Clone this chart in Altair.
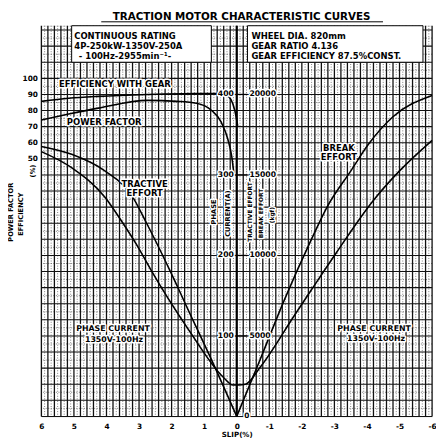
import altair as alt
import pandas as pd
import numpy as np

# ---------------- values ----------------
slip_ticks = [6, 5, 4, 3, 2, 1, 0, -1, -2, -3, -4, -5, -6]
pct_ticks = [50, 60, 70, 80, 90, 100]

# efficiency with gear (%)
eff_slip = [6.0, 5.16, 4.25, 2.74, 1.24, 0.57, 0.33, 0.18, 0.06, -0.03]
eff_val = [85.7, 87.6, 88.8, 90.0, 90.6, 90.6, 89.7, 87.0, 80.2, 70.5]

# power factor (%)
pf_slip = [6.0, 5.16, 4.25, 2.74, 1.84, 1.24, 0.78, 0.48, 0.27, 0.15, 0.09]
pf_val = [74.1, 77.8, 81.5, 86.3, 85.7, 84.5, 80.2, 72.9, 62.0, 51.0, 41.2]

# phase current (A), 1350V-100Hz
cur_slip = [6.0, 5.07, 4.04, 3.56, 3.04, 2.65, 1.45, 0.42, 0.12, -0.06, -0.27,
            -0.72, -1.78, -2.29, -3.07, -4.19, -5.0, -6.0]
cur_val = [329, 309, 272, 244, 211, 183, 106, 49, 39, 39, 40,
           61, 126, 157, 204, 268, 305, 343]

# tractive effort (kgf), motoring side
te_slip = [6.0, 5.07, 4.04, 3.26, 2.74, 1.93, 1.54, 0.78, 0.0]
te_val = [16770, 16280, 15240, 13840, 11890, 8540, 6830, 3540, 0]

# brake effort (kgf), braking side
br_slip = [0.0, -0.72, -1.48, -2.29, -2.77, -3.5, -4.04, -4.79, -6.0]
br_val = [0, 3540, 7320, 10980, 12990, 15240, 16890, 18600, 19940]

# right-hand scale labels drawn in the middle of the chart
mid_amp = [400, 300, 200, 100]
mid_kgf = ["20000", "15000", "10000", "5000"]

title_text = "TRACTION MOTOR CHARACTERISTIC CURVES"
box_left = ["CONTINUOUS RATING", "4P-250kW-1350V-250A", "- 100Hz-2955min\u207b\u00b9-"]
box_right = ["WHEEL DIA. 820mm", "GEAR RATIO 4.136", "GEAR EFFICIENCY 87.5%CONST."]

# ---------------- layout / styles ----------------
F = "DejaVu Sans"
W, H = 398, 398
PX_PER_AMP = 0.82
A_TOP = H / PX_PER_AMP           # top of the current scale
P_TOP = (A_TOP - 220) / 2        # percent scale shares the grid: 10 % = 20 A
P_BOT = (0 - 220) / 2

xs = alt.Scale(domain=[-6, 6], reverse=True, nice=False, zero=False)
ysA = alt.Scale(domain=[0, A_TOP], nice=False, zero=False)
ysP = alt.Scale(domain=[P_BOT, P_TOP], nice=False, zero=False)
ysT = alt.Scale(domain=[0, A_TOP * 50], nice=False, zero=False)

xaxis = alt.Axis(values=slip_ticks, labelExpr="toString(datum.value)",
                 title="SLIP(%)", labelFont=F, labelFontWeight="bold", labelFontSize=7.5,
                 labelColor="black", titleFont=F, titleFontWeight="bold", titleFontSize=7.2,
                 titleColor="black", ticks=False, domain=False, grid=False,
                 labelPadding=6, titlePadding=1, labelOverlap=False, labelFlush=False)

def X(field="s"):
    return alt.X(f"{field}:Q", scale=xs, axis=xaxis)

def YA(field="a"):
    return alt.Y(f"{field}:Q", scale=ysA, axis=None)

# ---------------- grid ----------------
vals = np.arange(-60, 61)
vgrid = pd.DataFrame({"s": vals / 10.0, "major": (vals % 2 == 0)})
hvals = np.arange(0, 49)
hgrid = pd.DataFrame({"a": hvals * 10.0, "major": (hvals % 2 == 0)})

g_v_major = alt.Chart(vgrid[vgrid.major]).mark_rule(color="#111", strokeWidth=1.3).encode(x=X())
g_v_minor = alt.Chart(vgrid[~vgrid.major]).mark_rule(color="#444", strokeWidth=0.7,
                                                    strokeDash=[1, 1.6]).encode(x=X())
g_h_major = alt.Chart(hgrid[hgrid.major]).mark_rule(color="#111", strokeWidth=1.1).encode(y=YA())
g_h_minor = alt.Chart(hgrid[~hgrid.major]).mark_rule(color="#444", strokeWidth=0.7,
                                                    strokeDash=[1, 1.6]).encode(y=YA())
g_center = alt.Chart(pd.DataFrame({"s": [0.0]})).mark_rule(color="black", strokeWidth=2.2).encode(x=X())

grid = alt.layer(g_v_minor, g_h_minor, g_v_major, g_h_major, g_center)

# ---------------- info boxes ----------------
boxes = pd.DataFrame({"s1": [5.07, -0.33], "s2": [0.78, -5.72], "a1": [440.0, 440.0], "a2": [A_TOP, A_TOP]})
box_rect = alt.Chart(boxes).mark_rect(fill="white", stroke="black", strokeWidth=1).encode(
    x=X("s1"), x2="s2:Q", y=YA("a1"), y2="a2:Q")

box_rows = [472.6, 460.4, 448.2]
box_txt = pd.DataFrame({
    "t": box_left + box_right,
    "s": [4.99, 4.99, 4.85, -0.45, -0.45, -0.45],
    "a": box_rows + box_rows,
})
box_text = alt.Chart(box_txt).mark_text(font=F, fontWeight="bold", fontSize=8.6, align="left",
                                        baseline="middle", color="black").encode(
    x=X(), y=YA(), text="t:N")

# ---------------- curves ----------------
def curve(slips, values, yscale, axis=None):
    df = pd.DataFrame({"s": slips, "v": values, "o": range(len(slips))})
    return alt.Chart(df).mark_line(color="black", strokeWidth=1.6, interpolate="monotone").encode(
        x=X(), y=alt.Y("v:Q", scale=yscale, axis=axis), order="o:Q")

pct_axis = alt.Axis(values=pct_ticks, labelFont=F, labelFontWeight="bold", labelFontSize=7.5,
                    labelColor="black", ticks=False, domain=False, grid=False, title=None,
                    labelPadding=4)
pct_group = alt.layer(curve(eff_slip, eff_val, ysP, pct_axis), curve(pf_slip, pf_val, ysP, pct_axis))
te_group = alt.layer(curve(te_slip, te_val, ysT), curve(br_slip, br_val, ysT))
cur_group = curve(cur_slip, cur_val, ysA)

# ---------------- text annotations ----------------
def labels(df, size, align="center", angle=0, baseline="middle"):
    enc = dict(x=X(), y=YA(), text="t:N")
    halo = alt.Chart(df).mark_text(font=F, fontWeight="bold", fontSize=size, align=align, angle=angle,
                                   baseline=baseline, fill="white", stroke="white", strokeWidth=3,
                                   strokeJoin="round").encode(**enc)
    ink = alt.Chart(df).mark_text(font=F, fontWeight="bold", fontSize=size, align=align, angle=angle,
                                  baseline=baseline, color="black").encode(**enc)
    return alt.layer(halo, ink)

curve_labels_left = pd.DataFrame({"t": ["EFFICIENCY WITH GEAR", "POWER FACTOR"],
                                  "s": [5.46, 5.22], "a": [413.0, 366.0]})
curve_labels_mid = pd.DataFrame({
    "t": ["TRACTIVE", "EFFORT", "BREAK", "EFFORT"],
    "s": [2.83, 2.83, -3.14, -3.14],
    "a": [289.0, 277.0, 333.0, 322.0]})
phase_labels = pd.DataFrame({
    "t": ["PHASE CURRENT", "1350V-100Hz", "PHASE CURRENT", "1350V-100Hz"],
    "s": [3.8, 3.77, -4.22, -4.28],
    "a": [109.0, 95.5, 108.0, 96.0]})
mid_left = pd.DataFrame({"t": [str(v) for v in mid_amp], "s": [0.09] * 4, "a": [float(v) for v in mid_amp]})
mid_right = pd.DataFrame({"t": mid_kgf, "s": [-0.39] * 4, "a": [float(v) for v in mid_amp]})
mid_zero = pd.DataFrame({"t": ["0"], "s": [-0.31], "a": [1.0]})
mid_dash = pd.DataFrame({"s1": [0.06] * 4, "s2": [-0.33] * 4, "a": [float(v) for v in mid_amp]})
dash_rules = alt.Chart(mid_dash).mark_rule(color="black", strokeWidth=1.3).encode(
    x=X("s1"), x2="s2:Q", y=YA())
rot_big = pd.DataFrame({"t": ["PHASE", "CURRENT(A)"], "s": [0.69, 0.27], "a": [254.0, 252.0]})
rot_small = pd.DataFrame({"t": ["TRACTIVE EFFORT", "BREAK EFFORT", "(kgf)"],
                          "s": [-0.42, -0.75, -1.09], "a": [254.0, 252.0, 250.0]})

text_group = alt.layer(
    labels(curve_labels_left, 8.6, align="left"),
    labels(curve_labels_mid, 8.6),
    labels(phase_labels, 8.0),
    labels(rot_big, 6.8, angle=270),
    labels(rot_small, 6.0, angle=270),
    dash_rules,
    labels(mid_left, 7.8, align="right"),
    labels(mid_right, 7.8, align="left"),
    labels(mid_zero, 7.5),
)

# ---------------- titles outside plot ----------------
deco = alt.layer(
    alt.Chart(pd.DataFrame({"t": [title_text]})).mark_text(
        font=F, fontWeight="bold", fontSize=10.5, baseline="alphabetic", align="center",
        color="black").encode(x=alt.value(204), y=alt.value(-6), text="t:N"),
    alt.Chart(pd.DataFrame({"k": [0]})).mark_rule(color="black", strokeWidth=1).encode(
        x=alt.value(61), x2=alt.value(348), y=alt.value(-4)),
    alt.Chart(pd.DataFrame({"t": ["POWER FACTOR"]})).mark_text(
        font=F, fontWeight="bold", fontSize=6.8, angle=270, color="black").encode(
        x=alt.value(-31), y=alt.value(190), text="t:N"),
    alt.Chart(pd.DataFrame({"t": ["EFFICIENCY"]})).mark_text(
        font=F, fontWeight="bold", fontSize=6.8, angle=270, color="black").encode(
        x=alt.value(-21), y=alt.value(192), text="t:N"),
    alt.Chart(pd.DataFrame({"t": ["(%)"]})).mark_text(
        font=F, fontWeight="bold", fontSize=6.8, angle=270, color="black").encode(
        x=alt.value(-8), y=alt.value(148), text="t:N"),
)

chart = alt.layer(
    grid,
    alt.layer(box_rect, box_text),
    pct_group,
    te_group,
    cur_group,
    text_group,
    deco,
).resolve_scale(y="independent").properties(
    width=W, height=H,
    autosize=alt.AutoSizeParams(type="none"),
    padding={"left": 34, "top": 14, "right": 4, "bottom": 22},
).configure_view(stroke="black", strokeWidth=2).configure(background="white")

chart.save("out.html", embed_options={"renderer": "svg", "actions": False})
